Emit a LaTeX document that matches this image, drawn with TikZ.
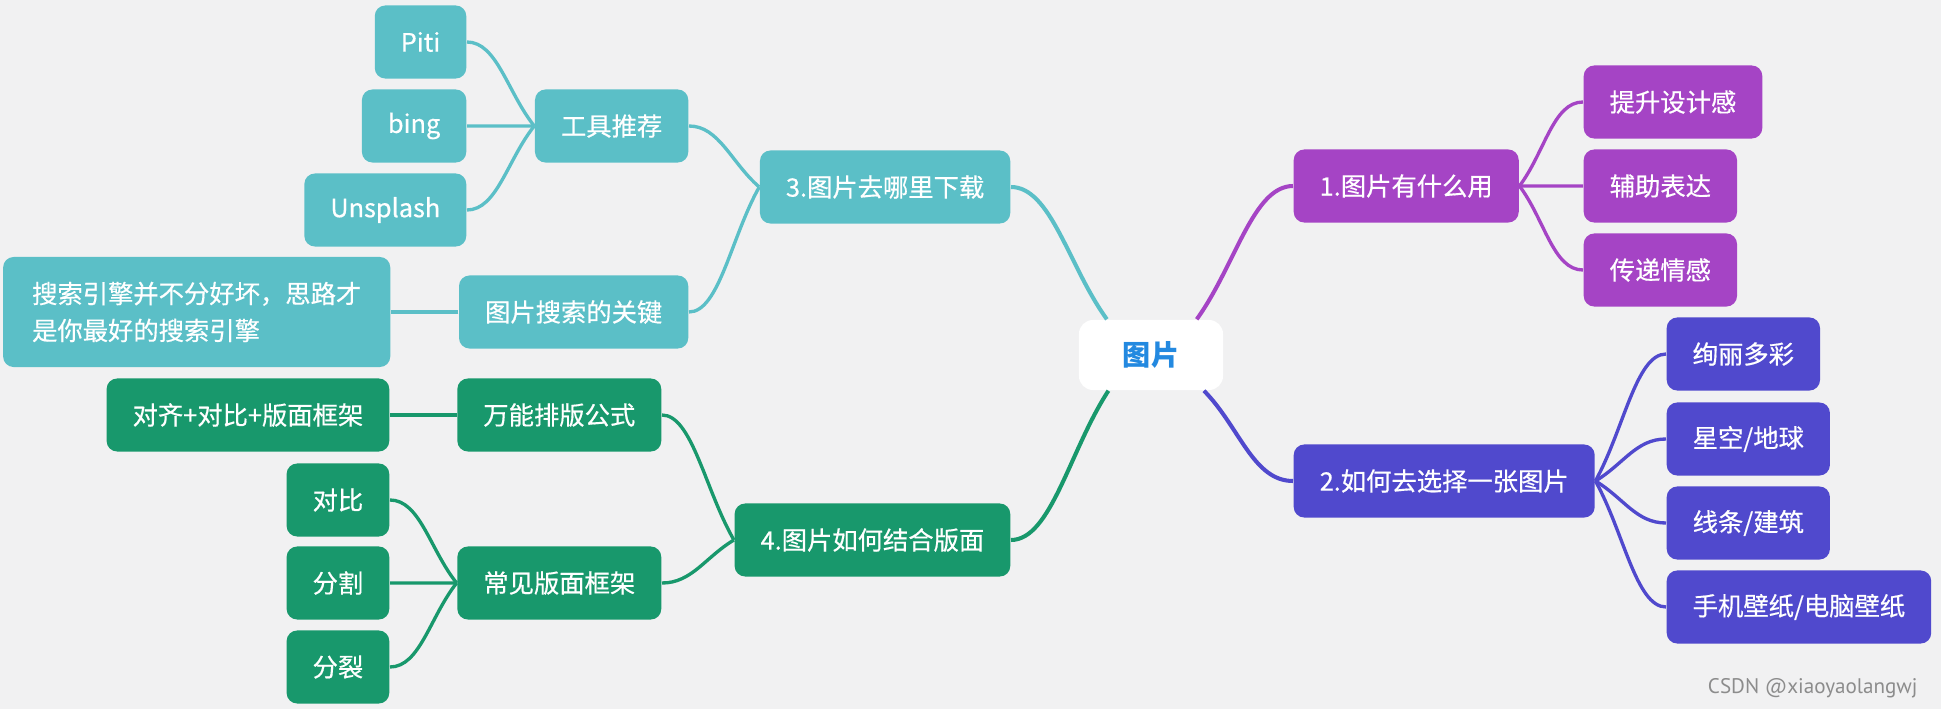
\documentclass[tikz,border=0pt]{standalone}
\usepackage{fontspec}
\setmainfont{Noto Sans CJK SC}
\newfontfamily\markfont{PT Sans}
\usepackage{xcolor}
\usetikzlibrary{calc, positioning}
\definecolor{bgpaper}{HTML}{F1F1F2}
\definecolor{tealbr}{HTML}{5BBFC7}
\definecolor{greenbr}{HTML}{18986C}
\definecolor{purplebr}{HTML}{A544C5}
\definecolor{indigobr}{HTML}{5049CD}
\definecolor{rootblue}{HTML}{2389E0}
\tikzset{
  root/.style={
    rectangle, rounded corners=4pt, fill=white,
    minimum width=1.44cm, minimum height=0.70cm,
    text=rootblue, font=\fontsize{8pt}{9pt}\selectfont\bfseries
  },
  topic/.style={
    rectangle, rounded corners=3pt, fill=#1, text=white,
    minimum height=0.73cm, inner xsep=0.26cm, inner ysep=0pt,
    font=\fontsize{7.2pt}{10.5pt}\selectfont\addfontfeature{FakeBold=0.5}
  },
  note/.style={topic=#1, minimum height=1.10cm, align=left, inner xsep=0.29cm},
  link/.style={to path={
    .. controls ($(\tikztostart)!0.4!(\tikztotarget)$)
    and ($(\tikztotarget)+(#1,0)$) .. (\tikztotarget)}},
  trunk/.style={draw=#1, line width=1.15pt},
  twig/.style={draw=#1, line width=0.95pt}
}
\begin{document}
\begin{tikzpicture}[x=0.01cm, y=-0.01cm]
  \fill[bgpaper] (0,0) rectangle (1941,709);
  \useasboundingbox (0,0) rectangle (1941,709);

  \node[root] (root) at (1151,355) {图片};

  % 1. purple branch
  \node[topic=purplebr, anchor=west] (use) at (1293,186) {1.图片有什么用};
  \foreach \nm/\yy/\txt in {design/102/提升设计感, express/186/辅助表达,
    emotion/270/传递情感}{
    \node[topic=purplebr, anchor=west] (\nm) at (1583,\yy) {\txt};
    \draw[twig=purplebr] (use.east) to[link=-30] (\nm.west);
  }

  % 2. indigo branch
  \node[topic=indigobr, anchor=west] (pick) at (1293,481) {2.如何去选择一张图片};
  \foreach \nm/\yy/\txt in {colorful/354/绚丽多彩, starry/439/{星空/地球},
    lines/523/{线条/建筑}, wallpaper/607/{手机壁纸/电脑壁纸}}{
    \node[topic=indigobr, anchor=west] (\nm) at (1666,\yy) {\txt};
    \draw[twig=indigobr] (pick.east) to[link=-30] (\nm.west);
  }

  % 3. teal branch
  \node[topic=tealbr, anchor=east] (where) at (1011,187) {3.图片去哪里下载};
  \node[topic=tealbr, anchor=east] (tools) at (689,126) {工具推荐};
  \node[topic=tealbr, anchor=east] (keys) at (689,312) {图片搜索的关键};
  \foreach \nm/\yy/\txt in {piti/42/Piti, bing/126/bing, unsplash/210/Unsplash}{
    \node[topic=tealbr, anchor=east] (\nm) at (467,\yy) {\txt};
    \draw[twig=tealbr] (tools.west) to[link=30] (\nm.east);
  }
  \node[note=tealbr, anchor=east] (tip) at (391,312)
    {搜索引擎并不分好坏，思路才\\是你最好的搜索引擎};
  \draw[twig=tealbr] (keys.west) -- (tip.east);
  \draw[twig=tealbr] (where.west) to[link=30] (tools.east);
  \draw[twig=tealbr] (where.west) to[link=30] (keys.east);

  % 4. green branch
  \node[topic=greenbr, anchor=east] (layout) at (1011,540) {4.图片如何结合版面};
  \node[topic=greenbr, anchor=east] (formula) at (662,415) {万能排版公式};
  \node[topic=greenbr, anchor=east] (frames) at (662,583) {常见版面框架};
  \node[topic=greenbr, anchor=east] (recipe) at (390,415) {对齐+对比+版面框架};
  \draw[twig=greenbr] (formula.west) -- (recipe.east);
  \foreach \nm/\yy/\txt in {contrast/500/对比, split/583/分割, crack/667/分裂}{
    \node[topic=greenbr, anchor=east] (\nm) at (390,\yy) {\txt};
    \draw[twig=greenbr] (frames.west) to[link=30] (\nm.east);
  }
  \draw[twig=greenbr] (layout.west) to[link=30] (formula.east);
  \draw[twig=greenbr] (layout.west) to[link=30] (frames.east);

  % trunks from the root
  \draw[trunk=tealbr] (root.141) to[link=40] (where.east);
  \draw[trunk=purplebr] (root.38) to[link=-40] (use.west);
  \draw[trunk=greenbr] (root.220) to[link=40] (layout.east);
  \draw[trunk=indigobr] (root.326) to[link=-40] (pick.west);

  \node[anchor=east, text=black!45, font=\markfont\fontsize{6pt}{7pt}\selectfont]
    (mark) at (1930,688) {CSDN @xiaoyaolangwj};
\end{tikzpicture}
\end{document}
